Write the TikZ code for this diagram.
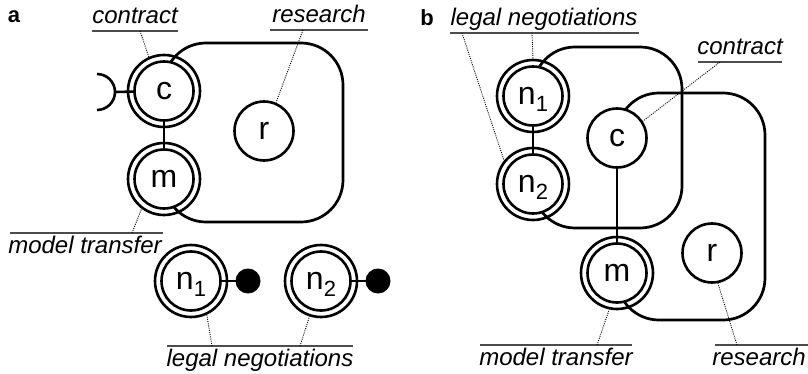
\documentclass[tikz,border=0pt]{standalone}
\usepackage{fontspec}
\setmainfont{Liberation Sans}
\usetikzlibrary{backgrounds}

\newcommand\ndfont{\fontsize{32}{32}\selectfont}
\newcommand\lbfont{\fontsize{24}{24}\selectfont\itshape}
\newcommand\sub[1]{\raisebox{-7pt}[0pt][0pt]{\fontsize{22}{22}\selectfont #1}}

\tikzset{
  ring/.style={circle, draw, line width=2.6pt, minimum size=72pt, inner sep=0pt},
  core/.style={circle, draw, fill=white, line width=2.6pt, minimum size=59pt, inner sep=0pt, font=\ndfont},
  dotnode/.style={circle, fill=black, minimum size=25pt, inner sep=0pt},
  region/.style={line width=2.7pt, rounded corners=42pt},
  link/.style={line width=2.6pt},
  lab/.style={font=\lbfont, anchor=base, inner sep=0pt},
  rule/.style={line width=1.2pt, draw=black!70},
  leader/.style={line width=0.9pt, dash pattern=on 1pt off 1.2pt},
  panel/.style={font=\fontsize{22}{22}\selectfont\bfseries, inner sep=0pt}
}

\begin{document}
\begin{tikzpicture}[x=1pt, y=-1pt]
\useasboundingbox (0,0) rectangle (808,374);

% ---------------- panel a ----------------
\node[panel] (pa) at (14,17) {a};

\node[ring] (c) at (164,91) {};
\node[core] (c-core) at (c) {c};
\node[ring] (m) at (164,179) {};
\node[core] (m-core) at (m) {m};
\node[core] (r) at (264,131) {r};

\node[ring] (n1) at (191,281) {};
\node[core] (n1-core) at (n1) {n\sub{1}};
\node[ring] (n2) at (321,281) {};
\node[core] (n2-core) at (n2) {n\sub{2}};
\node[dotnode] (d1) at (248,281) {};
\node[dotnode] (d2) at (378,281) {};

\coordinate (hc) at (97,92);
\coordinate (hcr) at (115,92);

% ---------------- panel b ----------------
\node[panel] (pb) at (427,18) {b};

\node[ring] (bn1) at (533,96) {};
\node[core] (bn1-core) at (bn1) {n\sub{1}};
\node[ring] (bn2) at (533,184) {};
\node[core] (bn2-core) at (bn2) {n\sub{2}};
\node[core] (bc) at (617,138) {c};
\node[ring] (bm) at (617,273) {};
\node[core] (bm-core) at (bm) {m};
\node[core] (br) at (712,253) {r};

% regions and links, kept behind the nodes
\begin{scope}[on background layer]
  \draw[region] (c.center) |- (343,43) -- (343,222) -| (m.center);
  \draw[link] (c.center) -- (m.center);
  \draw[link] (hcr) -- (c.center);
  \draw[link] (n1.center) -- (d1.center);
  \draw[link] (n2.center) -- (d2.center);

  \draw[region] (bn1.center) |- (682,47) -- (682,228) -| (bn2.center);
  \draw[region] (bc.center) |- (765,93) -- (765,320) -| (bm.center);
  \draw[link] (bn1.center) -- (bn2.center);
  \draw[link] (bc.center) -- (bm.center);
\end{scope}

% open half circle at the left of c
\draw[link] (97,74) arc[start angle=90, end angle=-90, radius=18pt];

% ---------------- labels, panel a ----------------
\node[lab] (la-contract) at (135,24) {contract};
\draw[rule] (92,31) -- (178,31);
\coordinate (ka-contract) at (140,31);
\draw[leader] (ka-contract) -- (c.114);

\node[lab] (la-research) at (319,23) {research};
\draw[rule] (270,30) -- (368,30);
\coordinate (ka-research) at (303,30);
\draw[leader] (ka-research) -- (r.67);

\node[lab] (la-model) at (85,253) {model transfer};
\draw[rule] (10,233) -- (163,233);
\coordinate (ka-model) at (132,233);
\draw[leader] (ka-model) -- (m.233);

\node[lab] (la-legal) at (260,366) {legal negotiations};
\draw[rule] (167,346) -- (353,346);
\coordinate (ka-legal1) at (212,346);
\coordinate (ka-legal2) at (300,346);
\draw[leader] (ka-legal1) -- (n1.-65);
\draw[leader] (ka-legal2) -- (n2.-108);

% ---------------- labels, panel b ----------------
\node[lab] (lb-legal) at (544,26) {legal negotiations};
\draw[rule] (450,33) -- (639,33);
\coordinate (kb-legal1) at (532,33);
\coordinate (kb-legal2) at (462,33);
\draw[leader] (kb-legal1) -- (bn1.90);
\draw[leader] (kb-legal2) -- (bn2.141);

\node[lab] (lb-contract) at (740,55) {contract};
\draw[rule] (698,62) -- (782,62);
\coordinate (kb-contract) at (720,62);
\draw[leader] (kb-contract) -- (bc.33);

\node[lab] (lb-model) at (556,365) {model transfer};
\draw[rule] (480,345) -- (632,345);
\coordinate (kb-model) at (597,345);
\draw[leader] (kb-model) -- (bm.-102);

\node[lab] (lb-research) at (759,365) {research};
\draw[rule] (715,345) -- (808,345);
\coordinate (kb-research) at (737,345);
\draw[leader] (kb-research) -- (br.-79);
\end{tikzpicture}
\end{document}
